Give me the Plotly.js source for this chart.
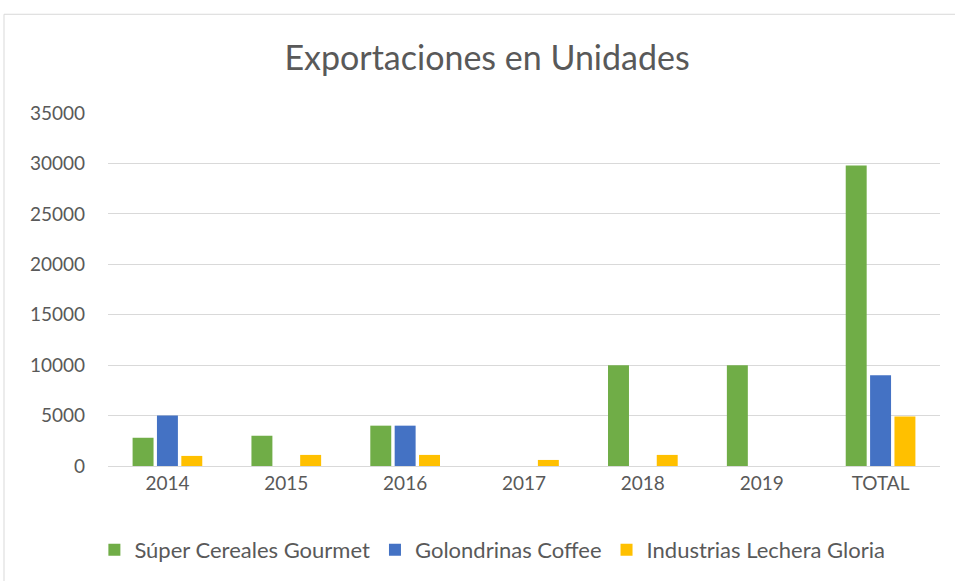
<!DOCTYPE html>
<html><head><meta charset="utf-8">
<script src="https://cdn.plot.ly/plotly-3.0.1.min.js"></script>
<style>html,body{margin:0;padding:0;background:#fff}#chart{width:955px;height:581px}</style>
</head><body><div id="chart"></div>
<script>
const categories = ["2014","2015","2016","2017","2018","2019","TOTAL"];
const seriesNames = ["Súper Cereales Gourmet","Golondrinas Coffee","Industrias Lechera Gloria"];
const cereales = [2800, 3000, 4000, 0, 10000, 10000, 29800];
const golondrinas = [5000, 0, 4000, 0, 0, 0, 9000];
const gloria = [1000, 1100, 1100, 600, 1100, 0, 4900];
const colors = ["#70ad47","#4472c4","#ffc000"];
const values = [cereales, golondrinas, gloria];

const data = values.map((v,i)=>({
  type:'bar', name:seriesNames[i], x:categories, y:v,
  marker:{color:colors[i]}, hoverinfo:'x+y+name'
}));
const font = "Lato, 'Open Sans', sans-serif";
const layout = {
  width:955, height:581,
  margin:{l:108, r:15, t:113, b:114},
  paper_bgcolor:'#fff', plot_bgcolor:'#fff',
  font:{family:font, color:'#595959', size:19},
  title:{text:'Exportaciones en Unidades', font:{size:34, color:'#595959', family:font}, x:0.51, xanchor:'center', y:0.9, yanchor:'middle'},
  barmode:'group', bargap:0.385, bargroupgap:0.14,
  xaxis:{type:'category', showgrid:false, showline:true, linecolor:'#d9d9d9', linewidth:1, ticks:'', tickfont:{size:19, color:'#595959'}, fixedrange:true},
  yaxis:{range:[0,35000], dtick:5000, tickformat:'d', showgrid:true, gridcolor:'#d9d9d9', zeroline:false, showline:false, ticks:'', tickfont:{size:19, color:'#595959'}, ticklabelstandoff:22, fixedrange:true},
  showlegend:true,
  legend:{orientation:'h', x:0.462, xanchor:'center', y:-0.234, yanchor:'middle', font:{size:22, color:'#595959'}, itemwidth:30},
  shapes:[{type:'rect', xref:'paper', yref:'paper', x0:-0.125, x1:1.019, y0:-0.33, y1:1.2797, line:{color:'#d9d9d9', width:1}, fillcolor:'rgba(0,0,0,0)', layer:'below'}]
};
Plotly.newPlot('chart', data, layout, {displayModeBar:false, staticPlot:true});
</script></body></html>
